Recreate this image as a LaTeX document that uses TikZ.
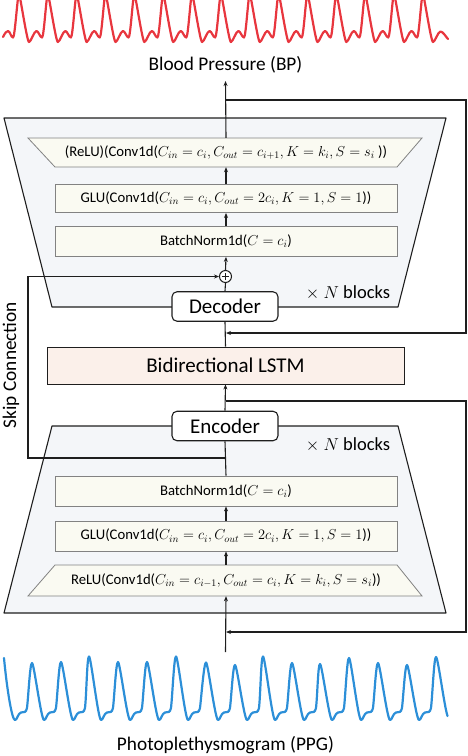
\documentclass[tikz,border=0pt]{standalone}
\usepackage{fontspec}
\setmainfont{Carlito}
\usetikzlibrary{arrows.meta}
\definecolor{bpred}{RGB}{232,54,62}
\definecolor{ppgblue}{RGB}{44,143,216}
\definecolor{trapfill}{RGB}{244,246,249}
\definecolor{layerfill}{RGB}{250,250,242}
\definecolor{lstmfill}{RGB}{251,240,234}
\definecolor{layerline}{RGB}{130,130,130}
\definecolor{ink}{RGB}{30,30,30}
\begin{document}
\begin{tikzpicture}[x=1pt,y=-1pt,
  conn/.style={draw=ink,line width=1.1pt},
  arr/.style={conn,-{Stealth[length=5pt,width=4pt]}},
  bigtrap/.style={draw=ink,line width=1.1pt,fill=trapfill,line join=round},
  layerpoly/.style={draw=layerline,line width=0.8pt,fill=layerfill},
  layer/.style={draw=layerline,line width=0.8pt,fill=layerfill,minimum width=342pt,inner sep=0pt,font=\fontsize{14.7}{16}\selectfont},
  layertext/.style={minimum width=342pt,minimum height=29pt,inner sep=0pt,font=\fontsize{14.7}{16}\selectfont},
  codec/.style={draw=ink,line width=1.1pt,fill=white,rounded corners=5pt,minimum width=106pt,minimum height=29.5pt,inner sep=0pt,font=\fontsize{21}{24}\selectfont},
  label/.style={font=\fontsize{19.3}{22}\selectfont,inner sep=0pt},
  blocks/.style={font=\fontsize{18.5}{21}\selectfont,inner sep=0pt},
  wave/.style={line width=2.2pt,line join=round,line cap=round}
]
\useasboundingbox (0,0) rectangle (468,756);

% ---------------- BP waveform (top) ----------------
\begin{scope}
\clip (0,0) rectangle (468,60);
\draw[wave,bpred] (3,37) .. controls (5,33) and (6.5,31) .. (8,31)
  .. controls (10,31) and (11,37.5) .. (13,37.5)
  .. controls (15,37.5) and (17.5,-6) .. (19,-6)
  \foreach \i in {0,...,13} {
   .. controls ({19+28.85*\i+1},-6) and ({19+28.85*\i+8},42) .. ({19+28.85*\i+10},42)
   .. controls ({19+28.85*\i+12},42) and ({19+28.85*\i+15},31) .. ({19+28.85*\i+17.5},31)
   .. controls ({19+28.85*\i+19.5},31) and ({19+28.85*\i+21},37.5) .. ({19+28.85*\i+23},37.5)
   .. controls ({19+28.85*\i+25},37.5) and ({19+28.85*\i+27.35},-6) .. ({19+28.85*\i+28.85},-6)
  }
  .. controls (423.9,-6) and (431,42) .. (433,42)
  .. controls (435,42) and (438,31.5) .. (440.5,31.5)
  .. controls (443,31.5) and (446,37) .. (448,39);
\end{scope}

\node[label] (bp) at (225.5,65) {Blood Pressure (BP)};
\coordinate (bptip) at (225.5,81);

% ---------------- Decoder trapezoid ----------------
\draw[bigtrap] (4,118) -- (446,118) -- (398,307) -- (52,307) -- cycle;
\draw[layerpoly] (28,138) -- (422,138) -- (397,167) -- (55,167) -- cycle;
\node[layertext] (drelu) at (226,152.5) {(ReLU)(Conv1d($C_{in}=c_i, C_{out}=c_{i+1}, K=k_i, S=s_i$ ))};
\node[layer,minimum height=28.5pt] (dglu) at (226,198.25) {GLU(Conv1d($C_{in}=c_i,C_{out}=2c_i,K=1,S=1$))};
\node[layer,minimum height=30.5pt] (dbn) at (226,241.25) {BatchNorm1d($C=c_i$)};
\node[circle,draw=ink,line width=1pt,fill=white,minimum size=12pt,inner sep=0pt] (plus) at (225.5,276.5) {};
\draw[ink,line width=0.9pt] ([yshift=-3.8pt]plus.center) -- ([yshift=3.8pt]plus.center);
\draw[ink,line width=0.9pt] ([xshift=-3.8pt]plus.center) -- ([xshift=3.8pt]plus.center);
\node[codec] (dec) at (225,306.5) {Decoder};
\node[blocks] (dblk) at (348,293) {$\times$ $N$ blocks};

% ---------------- LSTM ----------------
\node[draw=ink,line width=0.9pt,fill=lstmfill,minimum width=357pt,minimum height=37pt,inner sep=0pt,font=\fontsize{21}{24}\selectfont] (lstm) at (225.5,365.5) {Bidirectional LSTM};

% ---------------- Encoder trapezoid ----------------
\draw[bigtrap] (52,426) -- (398,426) -- (446,613) -- (4,613) -- cycle;
\node[codec] (enc) at (225,426) {Encoder};
\node[blocks] (eblk) at (348,445) {$\times$ $N$ blocks};
\node[layer,minimum height=30pt] (ebn) at (226,491) {BatchNorm1d($C=c_i$)};
\node[layer,minimum height=30pt] (eglu) at (226,536) {GLU(Conv1d($C_{in}=c_i,C_{out}=2c_i,K=1,S=1$))};
\draw[layerpoly] (55,565) -- (397,565) -- (422,596) -- (28,596) -- cycle;
\node[layertext,minimum height=31pt] (erelu) at (226,580.5) {ReLU(Conv1d($C_{in}=c_{i-1},C_{out}=c_i,K=k_i,S=s_i$))};

% ---------------- Connectors ----------------
\coordinate (dbranch) at (225.5,100);
\coordinate (dright) at (466,333);
\coordinate (dback) at (226,333);
\draw[arr] (drelu.north) -- (bptip);
\draw[arr] (dbranch) -| (dright) -- (dback);
\draw[arr] (dglu.north) -- (drelu.south);
\draw[arr] (dbn.north) -- (dglu.south);
\draw[arr] (plus.north) -- (dbn.south);
\draw[conn] (dec.north) -- (plus.south);
\draw[conn] (lstm.north) -- (dec.south);

\draw[arr] (enc.north) -- (lstm.south);
\coordinate (ebranch) at (225.5,401);
\coordinate (eright) at (466,632);
\coordinate (eback) at (226,632);
\draw[arr] (ebranch) -| (eright) -- (eback);
\draw[conn] (ebn.north) -- (enc.south);
\draw[arr] (eglu.north) -- (ebn.south);
\draw[arr] (erelu.north) -- (eglu.south);
\coordinate (ppgin) at (225.5,652);
\draw[arr] (ppgin) -- (erelu.south);

\coordinate (skipsrc) at (225.5,458);
\coordinate (skipbl) at (28,458);
\coordinate (skiptl) at (28,276.5);
\draw[arr] (skipsrc) -- (skipbl) -- (skiptl) -- (plus.west);
\node[label,rotate=90] (skiplab) at (11,365) {Skip Connection};

% ---------------- PPG waveform (bottom) ----------------
\draw[wave,ppgblue] (4,658) .. controls (7,690) and (12,720) .. (15,720)
  .. controls (17,720.5) and (18,713) .. (21,712.5)
  .. controls (24,712) and (26,713) .. (27,708)
  .. controls (28.5,695) and (30,663) .. (32,663)
  \foreach \p/\h/\q/\k in {32/663/61/662,61/662/89/656.5,89/656.5/118/662,118/662/147/662,147/662/176/656.5,176/656.5/206/662.5,206/662.5/235/665,235/665/263/656.5,263/656.5/292/663,292/663/320/664,320/664/349/658,349/658/378/663,378/663/407/665,407/665/436/657} {
   .. controls (\p+2,\h) and (\p+9,719) .. (\p+12,720)
   .. controls (\p+14,720.5) and (\p+15,713) .. (\p+18,712.5)
   .. controls (\p+21,712) and (\p+23,713) .. (\p+24,708)
   .. controls (\p+25.5,695) and (\q-2,\k) .. (\q,\k)
  }
  .. controls (438,657) and (444,705) .. (447.5,716);

\node[label] (ppg) at (225.5,745) {Photoplethysmogram (PPG)};
\end{tikzpicture}
\end{document}
